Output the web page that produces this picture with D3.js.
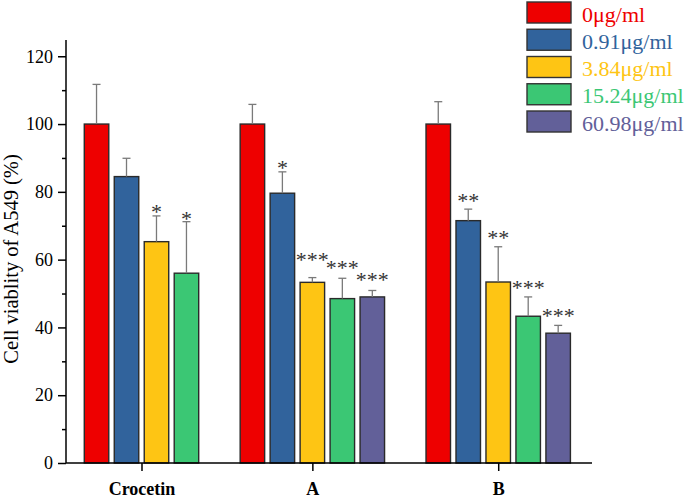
<!DOCTYPE html>
<html>
<head>
<meta charset="utf-8">
<script src="https://cdn.jsdelivr.net/npm/d3@7/dist/d3.min.js"></script>
<style>
  html, body { margin: 0; padding: 0; background: #fff; }
  svg { display: block; }
  text { font-family: "Liberation Serif", "Times New Roman", serif; }
</style>
</head>
<body>
<div id="chart"></div>
<script>
// ---------------- data ----------------
const groups = ["Crocetin", "A", "B"];
const seriesNames = ["0μg/ml", "0.91μg/ml", "3.84μg/ml", "15.24μg/ml", "60.98μg/ml"];
const seriesColors = ["#ee0000", "#31639c", "#fec514", "#3bc774", "#626099"];

// mean values per series, across groups [Crocetin, A, B]
const mean0    = [100, 100, 100];
const mean091  = [84.5, 79.6, 71.5];
const mean384  = [65.3, 53.3, 53.4];
const mean1524 = [56.0, 48.5, 43.3];
const mean6098 = [null, 49.0, 38.3];

// upper error (SD) per series
const sd0    = [11.7, 5.8, 6.6];
const sd091  = [5.4, 6.3, 3.4];
const sd384  = [7.6, 1.4, 10.4];
const sd1524 = [15.2, 6.0, 5.7];
const sd6098 = [null, 1.9, 2.3];

// significance marks and the value level at which they sit
const sig0    = ["", "", ""];
const sig091  = ["", "*", "**"];
const sig384  = ["*", "***", "**"];
const sig1524 = ["*", "***", "***"];
const sig6098 = ["", "***", "***"];

const sigAt0    = [null, null, null];
const sigAt091  = [null, 85.3, 75.4];
const sigAt384  = [72.2, 58.2, 64.6];
const sigAt1524 = [70.3, 55.8, 49.9];
const sigAt6098 = [null, 52.3, 41.7];

const yMajorTicks = [0, 20, 40, 60, 80, 100, 120];
const yMinorTicks = [10, 30, 50, 70, 90, 110];
const yTitle = "Cell viablity of A549 (%)";

// ---------------- build table ----------------
const means = [mean0, mean091, mean384, mean1524, mean6098];
const sds = [sd0, sd091, sd384, sd1524, sd6098];
const sigs = [sig0, sig091, sig384, sig1524, sig6098];
const sigAts = [sigAt0, sigAt091, sigAt384, sigAt1524, sigAt6098];

// slot layout (units of one bar step)
const startPad = 0.61, groupGap = 1.2, barFrac = 0.817, endPad = 0.72;
let cursor = startPad;
const bars = [];
const groupInfo = [];
groups.forEach((g, gi) => {
  const first = cursor;
  seriesNames.forEach((s, si) => {
    const v = means[si][gi];
    if (v == null) return;
    bars.push({group: g, gi, si, value: v, sd: sds[si][gi], sig: sigs[si][gi], sigAt: sigAts[si][gi], slot: cursor});
    cursor += 1;
  });
  groupInfo.push({group: g, first, last: cursor - 1});
  if (gi < groups.length - 1) cursor += groupGap;
});
const totalUnits = cursor - 1 + barFrac + endPad;

// ---------------- chart ----------------
const W = 685, H = 498;
const svg = d3.select("#chart").append("svg").attr("width", W).attr("height", H);

const x = d3.scaleLinear().domain([0, totalUnits]).range([66, 592]);
const y = d3.scaleLinear().domain([0, 124.8]).range([463, 40]);
const color = d3.scaleOrdinal().domain(seriesNames).range(seriesColors);

const groupCenter = d3.scaleOrdinal()
  .domain(groups)
  .range(groupInfo.map(d => (x(d.first) + x(d.last + barFrac)) / 2));

// bars
svg.append("g").selectAll("rect").data(bars).join("rect")
  .attr("x", d => x(d.slot))
  .attr("y", d => y(d.value))
  .attr("width", d => x(d.slot + barFrac) - x(d.slot))
  .attr("height", d => y(0) - y(d.value))
  .attr("fill", d => seriesColors[d.si])
  .attr("stroke", "#2a2a2a")
  .attr("stroke-width", 1.4);

// error bars (upper only)
const eb = svg.append("g").attr("stroke", "#7a7a7a").attr("stroke-width", 1.3);
bars.forEach(d => {
  const cx = x(d.slot + barFrac / 2);
  eb.append("line").attr("x1", cx).attr("x2", cx)
    .attr("y1", y(d.value)).attr("y2", y(d.value + d.sd));
  eb.append("line").attr("x1", cx - 4).attr("x2", cx + 4)
    .attr("y1", y(d.value + d.sd)).attr("y2", y(d.value + d.sd));
});

// significance
svg.append("g").selectAll("text").data(bars.filter(d => d.sig)).join("text")
  .attr("x", d => x(d.slot + barFrac / 2))
  .attr("y", d => y(d.sigAt) + 1)
  .attr("text-anchor", "middle")
  .attr("font-size", 22)
  .attr("fill", "#333")
  .text(d => d.sig);

// y axis
const yAxis = svg.append("g").attr("transform", `translate(${x(0)},0)`)
  .call(d3.axisLeft(y).tickValues(yMajorTicks).tickSize(8).tickPadding(5).tickFormat(d3.format("d")));
yAxis.select(".domain").remove();
yAxis.selectAll("line").attr("stroke", "#000").attr("stroke-width", 1.5);
yAxis.selectAll("text").attr("font-size", 18).attr("fill", "#000")
  .attr("font-family", "Liberation Serif, Times New Roman, serif");

const yMinor = svg.append("g").attr("transform", `translate(${x(0)},0)`)
  .call(d3.axisLeft(y).tickValues(yMinorTicks).tickSize(4).tickFormat(""));
yMinor.select(".domain").remove();
yMinor.selectAll("line").attr("stroke", "#000").attr("stroke-width", 1.5);

svg.append("line")
  .attr("x1", x(0)).attr("x2", x(0))
  .attr("y1", y.range()[1]).attr("y2", y(0))
  .attr("stroke", "#000").attr("stroke-width", 1.5);

// x axis
const xAxis = svg.append("g").attr("transform", `translate(0,${y(0)})`)
  .call(d3.axisBottom(groupCenter).tickSize(8));
xAxis.select(".domain").remove();
xAxis.selectAll("line").attr("stroke", "#000").attr("stroke-width", 1.5);
xAxis.selectAll("text")
  .attr("y", 32).attr("dy", 0)
  .attr("font-size", 18).attr("font-weight", "bold").attr("fill", "#000")
  .attr("font-family", "Liberation Serif, Times New Roman, serif");

svg.append("line")
  .attr("x1", x(0)).attr("x2", x(totalUnits))
  .attr("y1", y(0)).attr("y2", y(0))
  .attr("stroke", "#000").attr("stroke-width", 1.5);

// y title
svg.append("text")
  .attr("transform", `translate(18,259) rotate(-90)`)
  .attr("text-anchor", "middle")
  .attr("font-size", 20.5)
  .attr("fill", "#000")
  .text(yTitle);

// legend
const legend = svg.append("g").attr("transform", "translate(527,2)");
const li = legend.selectAll("g").data(seriesNames).join("g")
  .attr("transform", (d, i) => `translate(0,${i * 27.25})`);
li.append("rect").attr("width", 44).attr("height", 21)
  .attr("fill", d => color(d)).attr("stroke", "#333").attr("stroke-width", 1.4);
li.append("text").attr("x", 55).attr("y", 19.5)
  .attr("font-size", 22).attr("fill", d => color(d)).text(d => d);
</script>
</body>
</html>
